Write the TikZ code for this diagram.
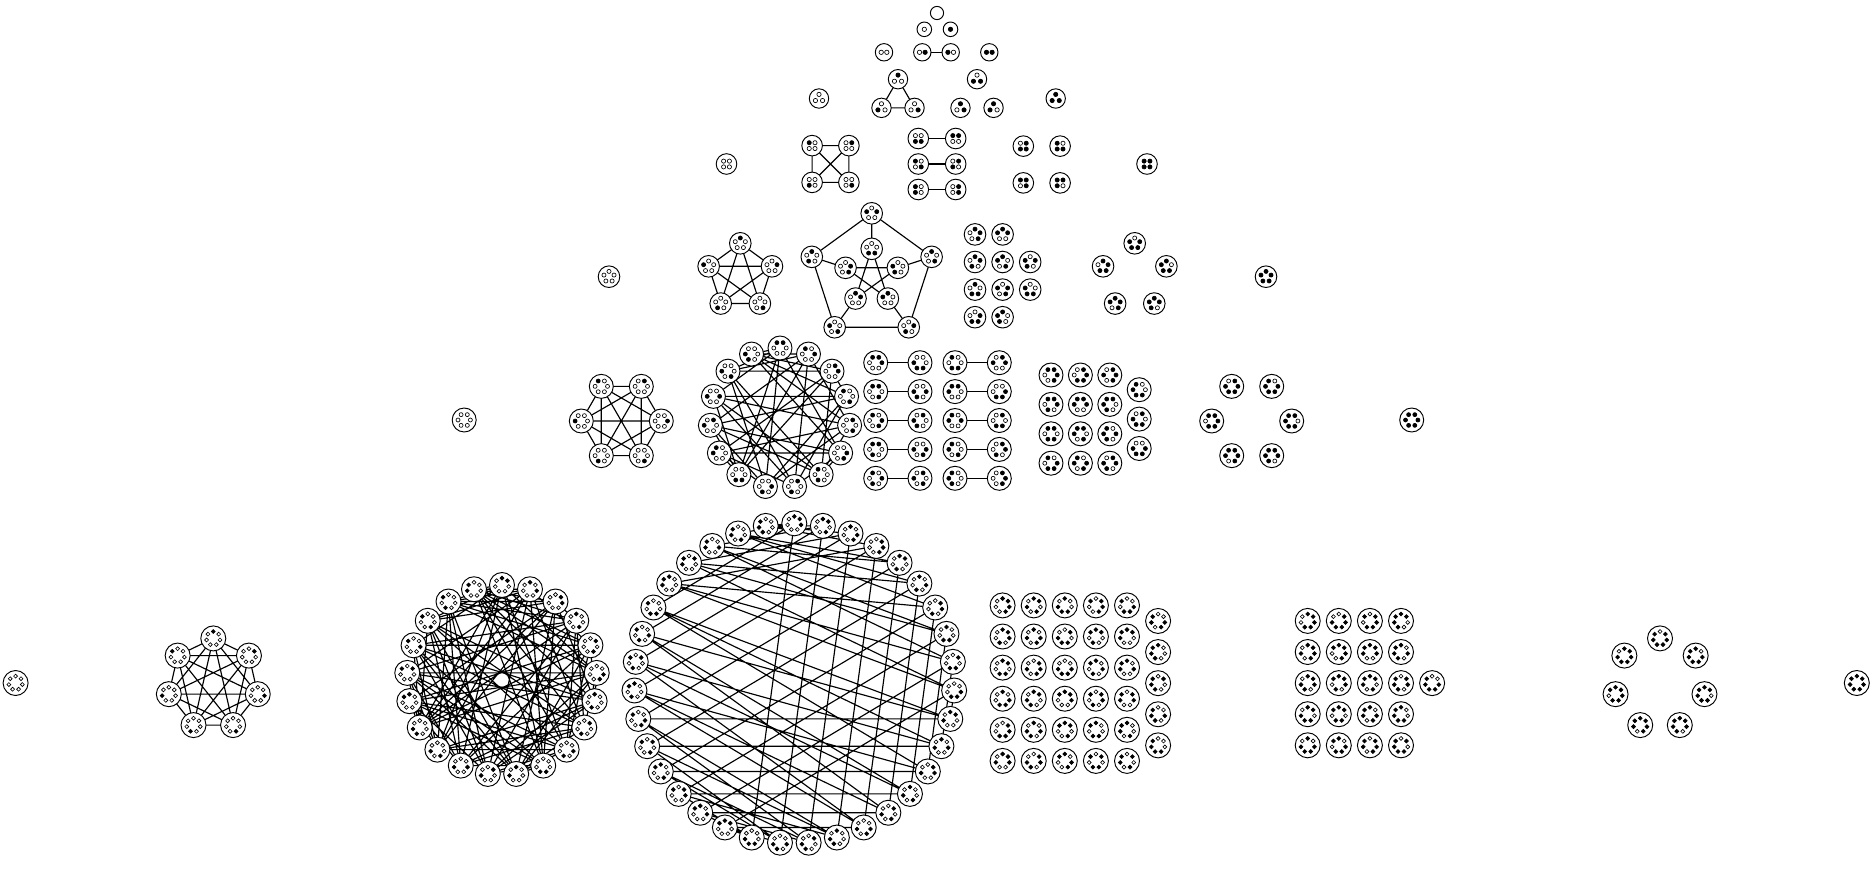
\documentclass[tikz,border=0pt]{standalone}
\pgfdeclarelayer{paper}
\pgfdeclarelayer{bg}
\pgfsetlayers{paper,bg,main}
\tikzset{
  declare function={bit(\bitA,\bitB)=mod(floor(\bitA/pow(2,\bitB)+0.001),2);},
  cfg/.style={circle,draw=black,line width=0.95pt,fill=white,inner sep=0pt,outer sep=0pt,minimum size=#1},
  kedge/.style={line width=1.15pt,black},
  wdot/.style={circle,draw=black,fill=white,line width=0.65pt,inner sep=0pt,minimum size=#1},
  bdot/.style={circle,draw=black,fill=black,line width=0.65pt,inner sep=0pt,minimum size=#1},
}
\newcommand\NR[1]{\ifcase#1 6.6\or 7.3\or 8.7\or 9.7\or 10.3\or 10.8\or 12\or 12.5\fi}
\newcommand\RR[1]{\ifcase#1 0\or 0\or 2.8\or 4.1\or 4.1\or 5.3\or 6.2\or 6.9\fi}
\newcommand\DR[1]{\ifcase#1 2\or 2.2\or 2.2\or 2.15\or 2.1\or 2.05\or 2.0\or 1.95\fi}
\newcommand\BA[1]{\ifcase#1 90\or 90\or 180\or 90\or 135\or 90\or 120\or 90\fi}
\gdef\alledges{}
% one configuration: name, x, y, n, mask
\newcommand\conf[5]{%
  \edef\nodeRad{\NR{#4}}\edef\ringRad{\RR{#4}}\edef\dotRad{\DR{#4}}\edef\baseAng{\BA{#4}}%
  \node[cfg=2*\nodeRad pt] (#1) at (#2,#3) {};
  \expandafter\xdef\csname mk@#1\endcsname{#5}%
  \ifnum#4>0\relax
    \pgfmathtruncatemacro\nlast{#4-1}%
    \foreach \jj in {0,...,\nlast}{%
      \pgfmathsetmacro\dAng{\baseAng-360*\jj/#4}%
      \pgfmathsetmacro\dotX{#2+\ringRad*cos(\dAng)}%
      \pgfmathsetmacro\dotY{#3-\ringRad*sin(\dAng)}%
      \pgfmathtruncatemacro\isB{bit(#5,\jj)}%
      \ifnum\isB=1\relax
        \node[bdot=2*\dotRad pt] at (\dotX,\dotY) {};%
      \else
        \node[wdot=2*\dotRad pt] at (\dotX,\dotY) {};%
      \fi}%
  \fi}
% Kneser edges among prefix-0..N-1 (collected, drawn once at the end)
\newcommand\kedges[2]{%
  \pgfmathtruncatemacro\lastE{#2-1}%
  \foreach \ii in {0,...,\lastE}{%
    \foreach \kk in {\ii,...,\lastE}{%
      \ifnum\kk>\ii\relax
        \edef\mA{\csname mk@#1-\ii\endcsname}%
        \edef\mB{\csname mk@#1-\kk\endcsname}%
        \pgfmathtruncatemacro\ovl{bit(\mA,0)*bit(\mB,0)+bit(\mA,1)*bit(\mB,1)+bit(\mA,2)*bit(\mB,2)+bit(\mA,3)*bit(\mB,3)+bit(\mA,4)*bit(\mB,4)+bit(\mA,5)*bit(\mB,5)+bit(\mA,6)*bit(\mB,6)}%
        \ifnum\ovl=0\relax
          \xdef\alledges{\alledges (#1-\ii) -- (#1-\kk)}%
        \fi
      \fi}}}
% collect k-subsets of n in mask order
\newcount\gcnt
\newcommand\collectsub[3]{%
  \global\gcnt=0\relax
  \pgfmathtruncatemacro\mmax{2^#2-1}%
  \foreach \m in {0,...,\mmax}{%
    \pgfmathtruncatemacro\popc{bit(\m,0)+bit(\m,1)+bit(\m,2)+bit(\m,3)+bit(\m,4)+bit(\m,5)+bit(\m,6)}%
    \ifnum\popc=#3\relax
      \expandafter\xdef\csname L@#1-\the\gcnt\endcsname{\m}%
      \global\advance\gcnt by 1\relax
    \fi}%
  \expandafter\xdef\csname N@#1\endcsname{\the\gcnt}}
% ring for k=1 or k=n-1: prefix n k cx cy R
\newcommand\ringlay[6]{%
  \edef\baseR{\BA{#2}}%
  \pgfmathtruncatemacro\nlastR{#2-1}%
  \foreach \ii in {0,...,\nlastR}{%
    \pgfmathsetmacro\angA{\baseR-360*\ii/#2}%
    \pgfmathsetmacro\posX{#4+#6*cos(\angA)}%
    \pgfmathsetmacro\posY{#5-#6*sin(\angA)}%
    \ifnum#3=1\relax\pgfmathtruncatemacro\curM{2^\ii}\else\pgfmathtruncatemacro\curM{2^#2-1-2^\ii}\fi
    \conf{#1-\ii}{\posX}{\posY}{#2}{\curM}}%
  \ifnum#3=1\relax\kedges{#1}{#2}\fi}
% circle: prefix n k cx cy R start
\newcommand\circlay[7]{%
  \collectsub{#1}{#2}{#3}%
  \edef\cntN{\csname N@#1\endcsname}%
  \pgfmathtruncatemacro\lastIdx{\cntN-1}%
  \foreach \ii in {0,...,\lastIdx}{%
    \pgfmathsetmacro\angA{#7-360*\ii/\cntN}%
    \pgfmathsetmacro\posX{#4+#6*cos(\angA)}%
    \pgfmathsetmacro\posY{#5-#6*sin(\angA)}%
    \edef\curM{\csname L@#1-\ii\endcsname}%
    \conf{#1-\ii}{\posX}{\posY}{#2}{\curM}}%
  \kedges{#1}{\cntN}}
% grid: prefix n k x0 y0 spacing H
\newcommand\gridlay[7]{%
  \collectsub{#1}{#2}{#3}%
  \edef\cntN{\csname N@#1\endcsname}%
  \pgfmathtruncatemacro\lastIdx{\cntN-1}%
  \pgfmathtruncatemacro\ncols{ceil(\cntN/#7)}%
  \pgfmathtruncatemacro\lastcnt{\cntN-(\ncols-1)*#7}%
  \foreach \ii in {0,...,\lastIdx}{%
    \pgfmathtruncatemacro\gCol{floor(\ii/#7+0.001)}%
    \pgfmathtruncatemacro\gRow{\ii-\gCol*#7}%
    \pgfmathsetmacro\posX{#4+\gCol*#6}%
    \ifnum\gCol=\numexpr\ncols-1\relax
      \pgfmathsetmacro\posY{#5+(\gRow+(#7-\lastcnt)/2)*#6}%
    \else
      \pgfmathsetmacro\posY{#5+\gRow*#6}%
    \fi
    \edef\curM{\csname L@#1-\ii\endcsname}%
    \conf{#1-\ii}{\posX}{\posY}{#2}{\curM}}}
\begin{document}
\begin{tikzpicture}[x=1pt,y=-1pt]
\begin{pgfonlayer}{paper}
\fill[white] (0,0) rectangle (1876,868);
\end{pgfonlayer}
\useasboundingbox (0,0) rectangle (1876,868);
% n = 0
\conf{s00}{937}{13}{0}{0}
% n = 1
\conf{s10}{924.3}{29.3}{1}{0}
\conf{s11}{950.5}{29.3}{1}{1}
% n = 2
\conf{s20}{884}{52.3}{2}{0}
\conf{r21-0}{922.3}{52.3}{2}{2}
\conf{r21-1}{950.7}{52.3}{2}{1}
\draw[kedge] (r21-0) -- (r21-1);
\conf{s22}{989.3}{52.3}{2}{3}
% n = 3
\conf{s30}{819}{98.5}{3}{0}
\ringlay{r31}{3}{1}{898}{98.3}{19.1}
\ringlay{r32}{3}{2}{977}{98.3}{19.1}
\conf{s33}{1055.7}{98.5}{3}{7}
% n = 4
\conf{s40}{726.5}{164}{4}{0}
\ringlay{r41}{4}{1}{830.5}{164}{26}
\foreach \lm/\rmk/\rr in {12/3/0,5/10/1,9/6/2}{%
  \pgfmathsetmacro\yrow{138.5+25.5*\rr}%
  \conf{k42l-\rr}{918.3}{\yrow}{4}{\lm}
  \conf{k42r-\rr}{955.7}{\yrow}{4}{\rmk}
  \draw[kedge] (k42l-\rr) -- (k42r-\rr);
}
\ringlay{r43}{4}{3}{1041.7}{164.5}{26}
\conf{s44}{1147}{164}{4}{15}
% n = 5
\conf{s50}{609}{276.7}{5}{0}
\ringlay{r51}{5}{1}{740.3}{276.6}{33.3}
\foreach \pp in {0,...,4}{%
  \pgfmathsetmacro\angA{90-72*\pp}%
  \pgfmathsetmacro\oX{871.7+63*cos(\angA)}%
  \pgfmathsetmacro\oY{276.3-63*sin(\angA)}%
  \pgfmathsetmacro\iX{871.7+27.5*cos(\angA)}%
  \pgfmathsetmacro\iY{276.3-27.5*sin(\angA)}%
  \pgfmathtruncatemacro\oM{2^mod(\pp+4,5)+2^mod(\pp+1,5)}%
  \pgfmathtruncatemacro\iM{2^mod(\pp+2,5)+2^mod(\pp+3,5)}%
  \pgfmathtruncatemacro\pin{\pp+5}%
  \conf{pet-\pp}{\oX}{\oY}{5}{\oM}
  \conf{pet-\pin}{\iX}{\iY}{5}{\iM}
}
\kedges{pet}{10}
\gridlay{g53}{5}{3}{975}{234.4}{27.6}{4}
\ringlay{r54}{5}{4}{1134.7}{276.6}{33.3}
\conf{s55}{1266}{276.7}{5}{31}
% n = 6
\conf{s60}{464.2}{420}{6}{0}
\ringlay{r61}{6}{1}{621.3}{421}{40}
\circlay{c62}{6}{2}{780}{418}{70}{90}
\foreach \pmask/\pp in {7/0,11/1,13/2,19/3,21/4,25/5,35/6,37/7,41/8,49/9}{%
  \pgfmathtruncatemacro\blk{floor(\pp/5+0.01)}%
  \pgfmathtruncatemacro\rw{\pp-5*\blk}%
  \pgfmathsetmacro\xl{875.7+79.3*\blk}%
  \pgfmathsetmacro\xr{920+79.3*\blk}%
  \pgfmathsetmacro\yrow{362.7+28.9*\rw}%
  \pgfmathtruncatemacro\cmask{63-\pmask}%
  \conf{k63l-\pp}{\xl}{\yrow}{6}{\pmask}
  \conf{k63r-\pp}{\xr}{\yrow}{6}{\cmask}
  \draw[kedge] (k63l-\pp) -- (k63r-\pp);
}
\gridlay{g64}{6}{4}{1051}{375}{29.4}{4}
\ringlay{r65}{6}{5}{1251.7}{421}{40}
\conf{s66}{1411.7}{420}{6}{63}
% n = 7
\conf{s70}{15.6}{683}{7}{0}
\ringlay{r71}{7}{1}{213.3}{684}{45.6}
\circlay{c72}{7}{2}{502}{680}{95}{90}
\circlay{c73}{7}{3}{794.3}{683.3}{160}{90}
\gridlay{g74}{7}{4}{1002.6}{605.4}{31.1}{6}
\gridlay{g75}{7}{5}{1307.7}{620.9}{31.1}{5}
\ringlay{r76}{7}{6}{1660}{684}{45.6}
\conf{s77}{1856.8}{683}{7}{127}
% all Kneser edges, behind the nodes
\begin{pgfonlayer}{bg}
\draw[kedge] \alledges;
\end{pgfonlayer}
\end{tikzpicture}
\end{document}
